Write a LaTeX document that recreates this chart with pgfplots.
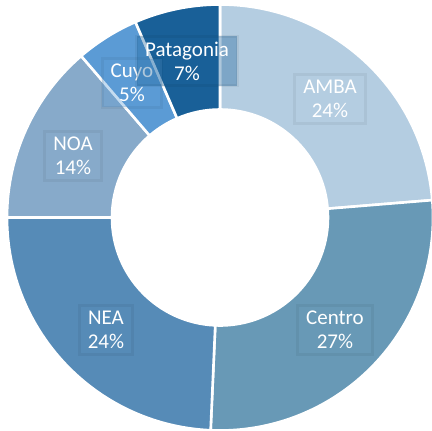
\documentclass[border=0pt]{standalone}
\usepackage{fontspec}
\setmainfont{Carlito}
\usepackage{pgfplots}
\usepackage{pgfplotstable}
\pgfplotsset{compat=1.18}

\definecolor{cAMBA}{HTML}{B4CDE1}
\definecolor{cCentro}{HTML}{6899B6}
\definecolor{cNEA}{HTML}{568BB7}
\definecolor{cNOA}{HTML}{87AACA}
\definecolor{cCuyo}{HTML}{5B9BD5}
\definecolor{cPatagonia}{HTML}{196098}

% share (%), colour, label centre (pt from the donut centre), shown label
\pgfplotstableread{
name      value col        lx     ly     lab
AMBA      23.7  cAMBA      110    118.5  24
Centro    27.0  cCentro    115   -112.5  27
NEA       24.3  cNEA      -114   -112.5  24
NOA       13.7  cNOA      -147    61.5   14
Cuyo      4.8   cCuyo     -88     134.5  5
Patagonia 6.5   cPatagonia -33    156.5  7
}\shares

\begin{document}
\begin{tikzpicture}
\begin{axis}[
  x=1pt, y=1pt,
  xmin=-220, xmax=212, ymin=-213.5, ymax=217.5,
  hide axis, clip=false,
]
\coordinate (ll) at (axis cs:-220,-213.5);
\coordinate (ur) at (axis cs:212,217.5);
\def\cum{0}
\pgfplotsforeachungrouped \i in {0,...,5}{
  \pgfplotstablegetelem{\i}{value}\of\shares \let\val\pgfplotsretval
  \pgfplotstablegetelem{\i}{col}\of\shares \let\col\pgfplotsretval
  \pgfmathsetmacro\aa{90-3.6*\cum}
  \pgfmathsetmacro\ab{90-3.6*(\cum+\val)}
  \edef\temp{\noexpand\fill[\col, draw=white, line width=2.6pt, line join=round]
    (axis cs:{213*cos(\aa)},{213*sin(\aa)})
    arc[start angle=\aa, end angle=\ab, radius=213pt]
    -- (axis cs:{108*cos(\ab)},{108*sin(\ab)})
    arc[start angle=\ab, end angle=\aa, radius=108pt] -- cycle;}
  \temp
  \pgfmathsetmacro\cum{\cum+\val}
}
\pgfplotsforeachungrouped \i in {0,...,5}{
  \pgfplotstablegetelem{\i}{name}\of\shares \let\nm\pgfplotsretval
  \pgfplotstablegetelem{\i}{col}\of\shares \let\col\pgfplotsretval
  \pgfplotstablegetelem{\i}{lx}\of\shares \let\lx\pgfplotsretval
  \pgfplotstablegetelem{\i}{ly}\of\shares \let\ly\pgfplotsretval
  \pgfplotstablegetelem{\i}{lab}\of\shares \let\lb\pgfplotsretval
  \edef\temp{\noexpand\node[fill=\col, fill opacity=0.35, text opacity=1,
    draw=black, draw opacity=0.05, line width=3pt,
    text=white, align=center, inner xsep=8.5pt, inner ysep=5.5pt,
    font=\noexpand\fontsize{21}{24}\noexpand\selectfont]
    at (axis cs:\lx,\ly) {\nm\noexpand\\\lb\noexpand\%};}
  \temp
}
\end{axis}
\pgfresetboundingbox
\path (ll) rectangle (ur);
\end{tikzpicture}
\end{document}
